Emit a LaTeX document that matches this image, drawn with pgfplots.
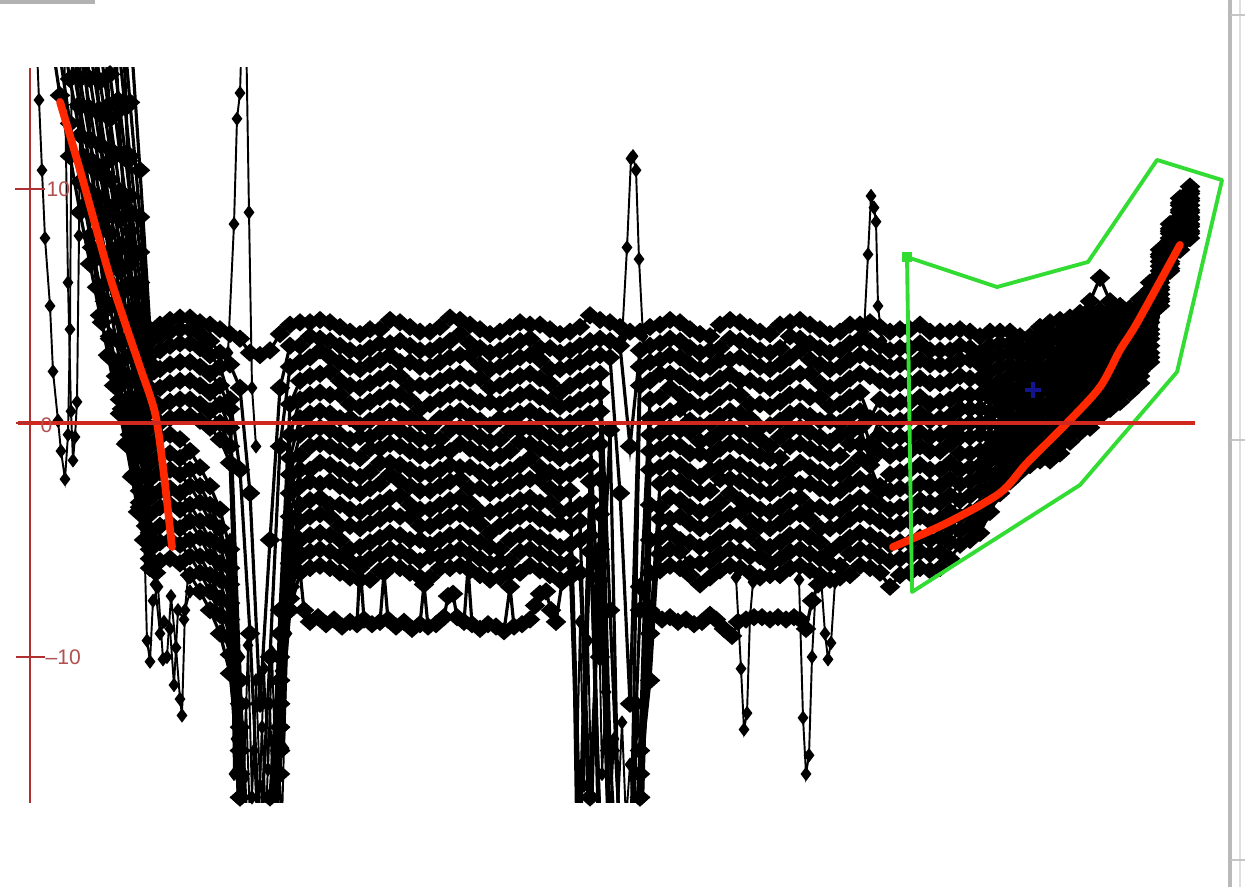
\documentclass[border=0pt]{standalone}
\usepackage{fontspec}
\setmainfont{Liberation Sans}
\usepackage{pgfplots}
\usepackage{pgfplotstable}
\pgfplotsset{compat=1.18}
\definecolor{axred}{RGB}{176,48,48}
\definecolor{hred}{RGB}{208,40,30}
\definecolor{fitred}{RGB}{255,40,0}
\definecolor{polygreen}{RGB}{50,220,50}
\definecolor{lblred}{RGB}{176,80,80}
\definecolor{plusblue}{RGB}{20,20,140}
\pgfplotsset{chartframe/.style={at={(0,0.84cm)}, anchor=south west, scale only axis,
  width=12.45cm, height=7.35cm, xmin=0, xmax=1245, ymin=-16.24, ymax=15.17,
  hide axis, clip=true}}
\pgfplotstableread{
x c1 c2 c3 c4 c5 c6 c7 c8 c9 c10 c11 c12 c13 c14 c15
50 nan nan nan nan nan nan nan nan nan nan nan nan nan nan 16.8
60 nan nan nan nan nan nan nan nan nan nan nan nan 17.1 15.7 14.0
70 nan nan nan nan nan nan nan nan nan nan 17.2 15.9 14.7 12.8 11.4
80 nan nan nan nan nan nan nan nan 17.4 16.0 14.7 13.5 12.3 10.3 9.0
90 nan nan nan nan nan nan 17.6 16.0 14.7 13.4 12.1 11.0 9.9 8.0 6.8
100 nan nan nan nan 18.2 16.1 14.6 13.2 11.9 10.7 9.6 8.5 7.4 5.8 4.6
110 nan nan nan 17.0 14.9 13.0 11.7 10.4 9.2 8.1 7.0 6.0 5.0 3.7 2.8
120 nan 18.7 15.6 13.4 11.5 9.9 8.7 7.6 6.5 5.5 4.4 3.5 2.6 1.6 1.0
130 17.1 13.7 11.4 9.7 8.2 6.8 5.8 4.8 3.7 2.9 1.9 1.1 0.1 -0.5 -1.0
140 10.8 8.8 7.3 6.0 4.8 3.7 2.9 1.9 1.0 0.2 -0.7 -1.4 -2.3 -2.9 -3.6
150 4.0 3.5 2.9 2.1 1.3 0.5 -0.2 -0.9 -1.7 -2.4 -3.2 -3.9 -4.7 -5.4 -6.2
160 4.2 3.7 3.1 2.3 1.5 0.7 0.0 -0.6 -1.4 -2.1 -2.9 -3.6 -4.4 -5.1 -5.9
170 4.4 3.9 3.3 2.5 1.7 0.9 0.2 -0.5 -1.3 -2.0 -2.8 -3.5 -4.3 -5.0 -5.8
180 4.5 4.0 3.4 2.6 1.8 1.0 0.3 -0.7 -1.5 -2.2 -3.0 -3.7 -4.5 -5.2 -6.0
190 4.5 4.0 3.4 2.6 1.8 1.0 0.3 -1.2 -2.0 -2.7 -3.5 -4.2 -5.0 -5.7 -6.5
200 4.3 3.8 3.2 2.4 1.6 0.8 0.1 -1.9 -2.7 -3.4 -4.2 -4.9 -5.7 -6.4 -7.2
210 4.2 3.5 2.9 2.1 1.3 0.5 -0.2 -2.7 -3.5 -4.2 -5.0 -5.7 -6.5 -7.2 -8.0
220 4.0 3.0 2.4 1.6 0.8 0.0 -0.7 -3.7 -4.5 -5.2 -6.0 -6.7 -7.5 -8.2 -9.0
230 3.8 2.5 1.0 0.6 -0.2 -1.0 -1.7 -5.4 -6.2 -6.9 -7.7 -8.4 -9.2 -9.9 -10.7
240 3.6 1.5 -2 -11 -14 -16 -12 -17 -15 -18 -13 -16 -14 -17 -15
250 3.0 -3 -9 -20 -22 -24 -21 -23 -25 -20 -19 -22 -24 -21 -23
260 2.9 -12 -18 -24 -22 -20 -25 -21 -19 -24 -23 -18 -22 -25 -20
270 3.1 -5 -10 -20 -18 -22 -16 -24 -20 -17 -21 -25 -19 -22 -18
280 3.8 1.5 -1 -8 -10 -12 -9 -14 -11 -13 -15 -12 -14 -11 -13
290 4.2 3.3 2.4 0.8 -0.5 -1.5 -2.2 -3.0 -4.0 -5.0 -6.0 -6.5 -7.0 -7.5 -8.0
300 4.3 3.3 2.6 1.8 1.0 0.2 -0.5 -1.4 -2.0 -2.7 -3.5 -4.2 -5.0 -5.7 -6.4
310 4.3 3.7 2.8 2.0 1.2 0.4 -0.3 -1.0 -2.0 -2.5 -3.3 -4.0 -4.8 -5.5 -6.2
320 4.4 3.6 3.1 2.1 1.3 0.5 -0.2 -0.9 -1.7 -2.6 -3.2 -3.9 -4.7 -5.4 -6.1
330 4.3 3.5 2.8 2.2 1.2 0.4 -0.3 -1.0 -1.8 -2.5 -3.5 -4.0 -4.8 -5.5 -6.2
340 4.1 3.3 2.6 1.8 1.2 0.2 -0.5 -1.2 -2.0 -2.7 -3.5 -4.4 -5.0 -5.7 -6.4
350 3.9 3.1 2.4 1.6 0.8 0.2 -0.7 -1.4 -2.2 -2.9 -3.7 -4.4 -5.4 -5.9 -6.6
360 3.8 3.0 2.3 1.5 0.7 -0.1 -0.6 -1.5 -2.3 -3.0 -3.8 -4.5 -5.3 -6.2 -6.7
370 4.0 3.2 2.5 1.7 0.9 0.1 -0.6 -1.1 -2.1 -2.8 -3.6 -4.3 -5.1 -5.8 -6.7
380 4.0 3.4 2.7 1.9 1.1 0.3 -0.4 -1.1 -1.7 -2.6 -3.4 -4.1 -4.9 -5.6 -6.3
390 4.4 3.4 2.9 2.1 1.3 0.5 -0.2 -0.9 -1.7 -2.2 -3.2 -3.9 -4.7 -5.4 -6.1
400 4.3 3.5 2.6 2.0 1.2 0.4 -0.3 -1.0 -1.8 -2.5 -3.1 -4.0 -4.8 -5.5 -6.2
410 4.1 3.3 2.6 1.6 1.0 0.2 -0.5 -1.2 -2.0 -2.7 -3.5 -4.0 -5.0 -5.7 -6.4
420 3.9 3.1 2.4 1.6 0.6 0.0 -0.7 -1.4 -2.2 -2.9 -3.7 -4.4 -5.0 -5.9 -6.6
430 3.9 3.1 2.4 1.6 0.8 -0.2 -0.7 -1.4 -2.2 -2.9 -3.7 -4.4 -5.2 -5.7 -6.6
440 4.1 3.3 2.6 1.8 1.0 0.2 -0.7 -1.2 -2.0 -2.7 -3.5 -4.2 -5.0 -5.7 -6.2
450 4.5 3.5 2.8 2.0 1.2 0.4 -0.3 -1.2 -1.8 -2.5 -3.3 -4.0 -4.8 -5.5 -6.2
460 4.4 3.8 2.9 2.1 1.3 0.5 -0.2 -0.9 -1.9 -2.4 -3.2 -3.9 -4.7 -5.4 -6.1
470 4.2 3.4 2.9 1.9 1.1 0.3 -0.4 -1.1 -1.9 -2.8 -3.4 -4.1 -4.9 -5.6 -6.3
480 4.0 3.2 2.5 1.9 0.9 0.1 -0.6 -1.3 -2.1 -2.8 -3.8 -4.3 -5.1 -5.8 -6.5
490 3.8 3.0 2.3 1.5 0.9 -0.1 -0.8 -1.5 -2.3 -3.0 -3.8 -4.7 -5.3 -6.0 -6.7
500 3.9 3.1 2.4 1.6 0.8 0.2 -0.7 -1.4 -2.2 -2.9 -3.7 -4.4 -5.4 -5.9 -6.6
510 4.1 3.3 2.6 1.8 1.0 0.2 -0.3 -1.2 -2.0 -2.7 -3.5 -4.2 -5.0 -5.9 -6.4
520 4.3 3.5 2.8 2.0 1.2 0.4 -0.3 -0.8 -1.8 -2.5 -3.3 -4.0 -4.8 -5.5 -6.4
530 4.2 3.6 2.9 2.1 1.3 0.5 -0.2 -0.9 -1.5 -2.4 -3.2 -3.9 -4.7 -5.4 -6.1
540 4.2 3.2 2.7 1.9 1.1 0.3 -0.4 -1.1 -1.9 -2.4 -3.4 -4.1 -4.9 -5.6 -6.3
550 4.0 3.2 2.3 1.7 0.9 0.1 -0.6 -1.3 -2.1 -2.8 -3.4 -4.3 -5.1 -5.8 -6.5
560 3.8 3.0 2.3 1.3 0.7 -0.1 -0.8 -1.5 -2.3 -3.0 -3.8 -4.3 -5.3 -6.0 -6.7
570 3.9 3.1 2.4 1.6 0.8 0.0 -0.7 -1.4 -2.2 -2.9 -3.7 -4.4 -5.2 -5.9 -6.6
580 4.1 3.3 2.6 1.8 1.0 0.2 -0.5 -1.2 -2.0 -17 -3.5 -4.2 -5.0 -18 -6.4
590 4.6 3.5 2.8 2.0 1.2 0.4 -0.3 -1.0 -1.8 -2.5 -3.3 -19 -4.8 -5.5 -16
600 4.4 3.6 2.9 2.1 1.3 0.5 -10 -0.9 -18 -2.4 -20 -3.9 -17 -5.4 -6.1
610 4.3 3.5 2.8 -8 -14 -20 -0.3 -19 -22 -18 -21 -20 -22 -19 -20
620 4.1 3.3 -3 -18 -22 -21 -20 -23 -19 -22 -20 -23 -18 -21 -22
630 3.9 -1 -12 -20 -19 -22 -23 -20 -22 -21 -24 -19 -22 -20 -18
640 3.9 3.1 2.4 1.6 -8 -14 -18 -16 -20 -17 -19 -15 -20 -17 -16
650 4.1 3.3 2.6 1.8 1.0 0.2 -0.5 -1.2 -2.0 -9 -3.5 -11 -5.0 -8 -6.4
660 4.2 3.4 2.7 2.1 1.1 0.3 -0.4 -1.1 -1.9 -2.6 -3.6 -4.1 -4.9 -5.6 -6.3
670 4.4 3.6 2.9 2.1 1.5 0.5 -0.2 -0.9 -1.7 -2.4 -3.2 -4.1 -4.7 -5.4 -6.1
680 4.3 3.5 2.8 2.0 1.2 0.6 -0.3 -1.0 -1.8 -2.5 -3.3 -4.0 -5.0 -5.5 -6.2
690 4.0 3.2 2.5 1.7 0.9 0.1 -0.4 -1.3 -2.1 -2.8 -3.6 -4.3 -5.1 -6.0 -6.5
700 3.8 3.0 2.3 1.5 0.7 -0.1 -0.8 -1.3 -2.3 -3.0 -3.8 -4.5 -5.3 -6.0 -6.9
710 3.7 3.1 2.4 1.6 0.8 0.0 -0.7 -1.4 -2.0 -2.9 -3.7 -4.4 -5.2 -5.9 -6.6
720 4.2 3.2 2.7 1.9 1.1 0.3 -0.4 -1.1 -1.9 -2.4 -3.4 -4.1 -4.9 -5.6 -6.3
730 4.4 3.6 2.7 2.1 1.3 0.5 -0.2 -0.9 -1.7 -2.4 -3.0 -3.9 -4.7 -5.4 -6.1
740 4.3 3.5 2.8 1.8 1.2 0.4 -0.3 -1.0 -1.8 -2.5 -3.3 -3.8 -4.8 -5.5 -6.2
750 4.1 3.3 2.6 1.8 0.8 0.2 -0.5 -1.2 -2.0 -2.7 -3.5 -4.2 -4.8 -5.7 -6.4
760 3.9 3.1 2.4 1.6 0.8 -0.2 -0.7 -1.4 -2.2 -2.9 -3.7 -4.4 -5.2 -5.7 -6.6
770 3.8 3.0 2.3 1.5 0.7 -0.1 -1.0 -1.5 -2.3 -3.0 -3.8 -4.5 -5.3 -6.0 -6.5
780 4.2 3.2 2.5 1.7 0.9 0.1 -0.6 -1.5 -2.1 -2.8 -3.6 -4.3 -5.1 -5.8 -6.5
790 4.3 3.7 2.8 2.0 1.2 0.4 -0.3 -1.0 -2.0 -2.5 -3.3 -4.0 -4.8 -5.5 -6.2
800 4.4 3.6 3.1 2.1 1.3 0.5 -0.2 -0.9 -1.7 -2.6 -3.2 -3.9 -4.7 -5.4 -6.1
810 4.2 3.4 2.7 2.1 1.1 0.3 -0.4 -1.1 -1.9 -2.6 -3.6 -4.1 -4.9 -5.6 -6.3
820 4.0 3.2 2.5 1.7 1.1 0.1 -0.6 -1.3 -2.1 -2.8 -3.6 -4.5 -5.1 -5.8 -6.5
830 3.8 3.0 2.3 1.5 0.7 0.1 -0.8 -1.5 -2.3 -3.0 -3.8 -4.5 -5.5 -6.0 -6.7
840 3.9 3.1 2.4 1.6 0.8 0.0 -0.5 -1.4 -2.2 -2.9 -3.7 -4.4 -5.2 -6.1 -6.6
850 4.2 3.4 2.7 1.9 1.1 0.3 -0.4 -0.9 -1.9 -2.6 -3.4 -4.1 -4.9 -5.6 -6.5
860 4.2 3.6 2.9 2.1 1.3 0.5 -0.2 -0.9 -1.5 -2.4 -3.2 -3.9 -4.7 -5.4 -6.1
870 4.3 3.5 2.8 2.0 0.2 -0.9 -1.6 -1.0 -1.8 -2.5 -3.3 -4.0 -4.8 -5.5 -6.2
880 4.1 3.3 2.6 1.8 1.0 0.2 -0.5 -1.2 -2.9 -2.7 -3.5 -4.2 -5.0 -5.7 -6.4
890 3.9 3.1 2.4 1.6 0.8 0.0 -0.7 -1.4 -2.2 -2.9 -3.7 -4.4 -5.2 -5.9 -7.0
900 4.0 3.2 2.5 1.7 0.9 0.1 -0.6 -1.3 -2.1 -2.8 -3.6 -4.3 -5.1 -5.8 -6.5
910 4.0 3.2 2.5 1.7 0.9 0.2 -0.6 -1.2 -2.0 -2.8 -3.5 -4.2 -5.1 -5.7 -6.4
920 4.2 3.4 2.7 1.9 1.1 0.4 -0.4 -1.0 -1.8 -2.6 -3.3 -4.0 -4.9 -5.5 -6.2
930 3.9 3.1 2.5 1.7 0.8 0.1 -0.6 -1.2 -2.0 -2.7 -3.4 -4.2 -5.0 -5.6 -6.3
940 3.9 3.1 2.5 1.7 0.9 0.2 -0.5 -1.2 -2.0 -2.7 -3.4 -4.1 -4.9 -5.5 -6.2
950 3.9 3.1 2.5 1.8 1.0 0.3 -0.4 -0.9 -1.7 -2.4 -3.1 -3.8 -4.5 -5.1 -5.8
960 4.0 3.3 2.7 2.0 1.2 0.6 -0.1 -0.6 -1.3 -2.0 -2.6 -3.3 -4.0 -4.6 -5.2
970 3.9 3.2 2.7 1.9 1.2 0.6 0.0 -0.6 -1.3 -1.9 -2.5 -3.1 -3.8 -4.4 -5.0
980 3.7 3.0 2.5 1.9 1.2 0.6 0.0 -0.5 -1.2 -1.8 -2.3 -2.9 -3.6 -4.1 -4.7
990 3.9 3.3 2.8 2.2 1.6 1.1 0.5 0.0 -0.6 -1.1 -1.6 -2.2 -2.8 -3.3 -3.8
1000 3.9 3.4 2.9 2.4 1.8 1.4 0.9 0.5 -0.1 -0.6 -1.1 -1.6 -2.1 -2.5 -3.0
1010 3.9 3.4 3.0 2.5 2.0 1.5 1.1 0.7 0.2 -0.3 -0.7 -1.2 -1.7 -2.1 -2.5
1020 3.7 3.2 2.9 2.4 2.0 1.6 1.2 0.8 0.3 -0.1 -0.5 -0.9 -1.4 -1.7 -2.1
1030 3.7 3.3 2.9 2.5 2.1 1.7 1.3 1.0 0.5 0.1 -0.3 -0.6 -1.1 -1.4 -1.8
1040 4.1 3.6 3.3 2.9 2.4 2.0 1.6 1.3 0.8 0.4 0.0 -0.4 -0.9 -1.2 -1.6
1050 4.3 3.8 3.5 3.0 2.5 2.1 1.7 1.4 0.9 0.5 0.0 -0.4 -0.8 -1.2 -1.6
1060 4.4 3.9 3.6 3.1 2.7 2.3 1.9 1.5 1.1 0.7 0.3 -0.1 -0.6 -0.9 -1.3
1070 4.5 4.1 3.8 3.3 2.9 2.5 2.2 1.9 1.4 1.1 0.7 0.3 -0.1 -0.4 -0.8
1080 4.7 4.3 4.0 3.6 3.2 2.8 2.5 2.2 1.7 1.4 1.0 0.7 0.3 0.0 -0.4
1090 5.2 4.8 4.4 4.0 3.6 3.2 2.8 2.5 2.1 1.7 1.3 0.9 0.5 0.2 -0.2
1100 6.2 4.8 4.5 4.1 3.7 3.4 3.0 2.8 2.4 2.0 1.7 1.3 0.9 0.6 0.3
1110 5.2 4.8 4.6 4.2 3.8 3.5 3.2 2.9 2.5 2.2 1.9 1.6 1.2 0.9 0.6
1120 5.0 4.7 4.4 4.1 3.8 3.5 3.2 3.0 2.6 2.3 2.1 1.8 1.4 1.2 0.9
1130 4.9 4.6 4.4 4.1 3.8 3.6 3.3 3.1 2.8 2.6 2.3 2.1 1.8 1.6 1.3
1140 5.3 5.0 4.8 4.5 4.2 4.0 3.7 3.5 3.2 3.0 2.7 2.5 2.2 2.0 1.7
1150 6.0 5.7 5.5 5.3 5.0 4.7 4.5 4.3 4.0 3.8 3.6 3.3 3.0 2.8 2.6
1160 7.4 7.2 7.1 6.9 6.7 6.5 6.3 6.2 6.0 5.8 5.7 5.5 5.3 5.2 5.0
1170 8.5 8.3 8.2 8.1 7.9 7.8 7.6 7.5 7.3 7.2 7.1 6.9 6.8 6.6 6.5
1180 9.6 9.4 9.3 9.1 9.0 8.8 8.6 8.5 8.3 8.2 8.0 7.9 7.7 7.6 7.4
1190 10.1 9.9 9.8 9.6 9.5 9.3 9.1 9.0 8.8 8.7 8.5 8.4 8.2 8.1 7.9
}\bands
\begin{document}
\begin{tikzpicture}
\useasboundingbox (0,0) rectangle (12.45cm,8.87cm);
\fill[white] (0,0) rectangle (12.45cm,8.87cm);
\fill[gray!60] (0,8.83cm) rectangle (0.95cm,8.87cm);
\draw[gray!55, line width=0.9pt] (12.30cm,0) -- (12.30cm,8.87cm);
\draw[gray!25, line width=0.6pt] (12.40cm,0) -- (12.40cm,8.87cm);
\draw[gray!45, line width=0.6pt] (12.31cm,8.72cm) -- (12.45cm,8.72cm);
\draw[gray!45, line width=0.6pt] (12.31cm,4.47cm) -- (12.45cm,4.47cm);
\draw[gray!45, line width=0.6pt] (12.31cm,0.27cm) -- (12.45cm,0.27cm);
\begin{axis}[chartframe,
  dat/.style={black, line width=0.9pt, mark=diamond*, mark size=2.0pt, mark options={solid, xscale=1.5}},
  thin dat/.style={black, line width=0.55pt, mark=diamond*, mark size=1.6pt, mark options={solid}}]
\pgfplotsinvokeforeach{1,...,15}{\addplot[dat] table[x=x,y=c#1]{\bands};}
% extra descending lines on the left
\addplot[dat] coordinates {(84,16) (88,13.5) (92,11.2) (96,9.0) (100,7.1) (105,5.2) (110,3.6) (116,2.0) (122,0.6) (128,-0.8) (134,-2.2) (140,-3.4) (146,-4.4) (152,-5.0)};
\addplot[dat] coordinates {(95,16) (99,13.4) (103,11.0) (107,8.8) (111,6.9) (116,5.0) (121,3.4) (126,2.0) (131,0.8) (136,-0.3) (141,-1.3) (146,-2.2) (152,-3.0)};
\addplot[dat] coordinates {(106,16) (109,13.6) (112,11.3) (115,9.3) (119,7.4) (123,5.7) (127,4.2) (131,2.9) (135,1.8) (139,0.8) (144,-0.2) (150,-1.0)};
\addplot[dat] coordinates {(116,16) (118,13.8) (121,11.5) (124,9.5) (127,7.6) (130,6.0) (134,4.5) (138,3.3) (142,2.4) (147,1.6) (152,1.0)};
\addplot[dat] coordinates {(124,16) (126,13.5) (128,11.2) (131,9.0) (134,7.2) (137,5.6) (140,4.4) (144,3.4) (149,2.6) (154,2.2)};
\addplot[dat] coordinates {(75,16) (79,13.6) (83,11.4) (87,9.4) (92,7.5) (97,5.8) (102,4.3) (108,2.9) (114,1.6) (120,0.4) (126,-0.9) (132,-2.3) (138,-3.8) (144,-5.0) (150,-5.8) (156,-6.4)};
% leftmost lines
\addplot[thin dat] coordinates {(36,17) (39,13.8) (42,10.8) (45,7.9) (50,5.0) (53,2.2) (58,0.1) (61,-1.2) (65,-2.4) (68,-0.5) (70,4) (72,17)};
\addplot[thin dat] coordinates {(64,17) (68,6) (71,0.5) (73,-1.6) (75,-0.6) (77,0.9) (79,8) (81,17)};
% low dips on the left
\addplot[thin dat] coordinates {(144,-4.5) (147,-9.3) (150,-10.2) (153,-7.6) (158,-7.0) (163,-10.1) (167,-10.0) (171,-7.4) (176,-9.6) (180,-11.8) (182,-12.5) (185,-8.0) (190,-7.2)};
\addplot[thin dat] coordinates {(155,-6.9) (160,-9.0) (164,-8.5) (170,-8.8) (174,-11.2) (178,-8.0) (184,-8.4) (188,-6.6)};
% dip clusters
\addplot[thin dat] coordinates {(230,-5) (234,-15) (238,-11) (242,-17) (246,-12) (250,-17) (254,-14) (258,-18) (262,-13) (266,-17) (270,-12) (274,-18) (278,-14) (282,-17) (287,-9) (292,-5)};
\addplot[thin dat] coordinates {(232,-9) (236,-13.5) (240,-10) (244,-15.2) (248,-9.5) (252,-16) (256,-11) (260,-15.5) (264,-10.5) (268,-14.8) (272,-9.8) (276,-15.6) (280,-10.6) (284,-13.9) (289,-7) (294,-4)};
\addplot[thin dat] coordinates {(598,-6) (602,-15) (606,-11.5) (610,-17) (614,-13.5) (618,-16.5) (622,-12.8) (626,-17) (630,-14.6) (634,-17) (638,-12) (642,-16.8) (646,-7)};
\addplot[thin dat] coordinates {(572,-6.2) (576,-17) (580,-8.5) (584,-15.5) (588,-9.3) (592,-17) (596,-6.6)};
% spikes
\addplot[thin dat] coordinates {(228,3.0) (234,8.5) (237,13.0) (240,14.1) (242,17) (246,17) (249,9.0) (252,1.5) (256,-1.0)};
\addplot[thin dat] coordinates {(622,3.6) (627,7.5) (631,11.3) (633,11.4) (636,10.8) (639,7.0) (643,3.7)};
\addplot[thin dat] coordinates {(864,3.9) (868,7.2) (871,9.7) (874,9.2) (876,8.6) (878,5.0) (882,3.5)};
% lower band
\addplot[dat] coordinates {(298,-5.5) (304,-8.0) (310,-8.5) (318,-8.3) (326,-8.6) (334,-8.4) (342,-8.7) (350,-8.5) (357,-8.6) (360,-6.0) (364,-8.4) (372,-8.6) (380,-8.5) (384,-6.4) (388,-8.4) (396,-8.7) (404,-8.5) (412,-8.8) (420,-8.6) (424,-6.9) (428,-8.7) (436,-8.6) (444,-8.3) (448,-7.4) (453,-7.3) (457,-8.3) (464,-8.5) (468,-6.2) (472,-8.6) (480,-8.8) (488,-8.6) (496,-8.7) (504,-8.9) (510,-7.0) (514,-8.7) (522,-8.6) (530,-8.4) (535,-7.8) (540,-7.3) (546,-7.2) (551,-8.0) (556,-8.5) (562,-6.8)};
\addplot[dat] coordinates {(640,-7.0) (646,-7.9) (654,-8.2) (662,-8.4) (670,-8.3) (678,-8.5) (686,-8.4) (694,-8.6) (702,-8.5) (710,-8.2) (716,-8.4) (724,-8.8) (732,-9.1) (738,-8.5) (746,-8.4) (754,-8.3) (762,-8.3) (770,-8.4) (778,-8.3) (786,-8.4) (794,-8.3) (800,-8.4) (806,-8.8) (812,-7.6) (818,-6.9)};
% dips on the right of the plateau
\addplot[thin dat] coordinates {(736,-6.6) (741,-10.5) (744,-13.1) (747,-12.4) (750,-8.3) (753,-6.8)};
\addplot[thin dat] coordinates {(799,-6.7) (803,-12.6) (806,-15.0) (809,-14.2) (812,-10) (816,-6.9)};
\addplot[thin dat] coordinates {(821,-6.6) (825,-9.0) (828,-10.1) (831,-9.4) (835,-6.8)};
\end{axis}
% overlay: axes, fitted curves, selection polygon and cursor, drawn above the data
\begin{axis}[chartframe]
\addplot[fitred, line width=2.2pt, smooth, no marks, line cap=round] coordinates {(60,13.72) (80,10.81) (107,6.67) (123,4.53) (140,2.39) (155,0.43) (163,-1.88) (172,-5.3)};
\addplot[fitred, line width=2.2pt, smooth, no marks, line cap=round] coordinates {(893,-5.3) (947,-4.27) (1000,-2.99) (1027,-1.71) (1067,0) (1100,1.54) (1120,3.12) (1137,4.27) (1180,7.61)};
\addplot[polygreen, line width=1.1pt, no marks, line join=round] coordinates {(907,7.09) (912,-7.22) (1080,-2.65) (1177,2.18) (1222,10.38) (1157,11.24) (1088,6.88) (997,5.81) (907,7.09)};
\addplot[polygreen, only marks, mark=square*, mark size=1.3pt] coordinates {(907,7.09)};
\addplot[plusblue, only marks, mark=+, mark size=2.2pt, line width=1.2pt] coordinates {(1033,1.41)};
\draw[axred, line width=0.85pt] (axis cs:30,-16.24) -- (axis cs:30,15.17);
\draw[hred, line width=1.1pt] (axis cs:18,0) -- (axis cs:1195,0);
\draw[axred, line width=0.6pt] (axis cs:15,10) -- (axis cs:45,10);
\draw[axred, line width=0.6pt] (axis cs:16,-10) -- (axis cs:45,-10);
\draw[axred, line width=0.6pt] (axis cs:16,0) -- (axis cs:30,0);
\node[lblred, font=\fontsize{6}{7}\selectfont, anchor=west, inner sep=0pt] at (axis cs:46,10) {10};
\node[lblred, font=\fontsize{6}{7}\selectfont, anchor=west, inner sep=0pt] at (axis cs:40,-0.1) {0};
\node[lblred, font=\fontsize{6}{7}\selectfont, anchor=west, inner sep=0pt] at (axis cs:45,-10) {\textendash10};
\end{axis}
\end{tikzpicture}
\end{document}
